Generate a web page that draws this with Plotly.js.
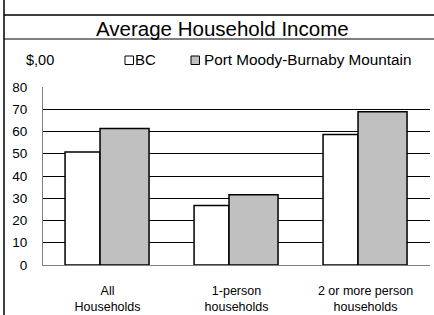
<!DOCTYPE html>
<html>
<head>
<meta charset="utf-8">
<script src="https://cdn.plot.ly/plotly-3.0.1.min.js"></script>
<style>html,body{margin:0;padding:0;background:#fff;}#chart{width:434px;height:315px;}</style>
</head>
<body>
<div id="chart"></div>
<script>
var categories = ["All<br>Households", "1-person<br>households", "2 or more person<br>households"];
var bcValues = [50.8, 26.7, 58.7];
var pmValues = [61.3, 31.6, 68.9];
var seriesNames = ["BC", "Port Moody-Burnaby Mountain"];
var yTicks = [0, 10, 20, 30, 40, 50, 60, 70, 80];
var titleText = "Average Household Income";
var unitText = "$,00";

var W = 434, H = 315;
var L = 43, R = 430, T = 87, B = 265;
function px(x) { return (x - L) / (R - L); }
function py(y) { return (B - y) / (B - T); }

var font = "Liberation Sans, Arial, Helvetica, sans-serif";

var traces = [
  {
    type: "bar", x: categories, y: bcValues, name: seriesNames[0],
    width: 0.271, offset: -0.329,
    marker: { color: "#ffffff", line: { color: "#000000", width: 1.5 } },
    showlegend: false, hoverinfo: "y"
  },
  {
    type: "bar", x: categories, y: pmValues, name: seriesNames[1],
    width: 0.38, offset: -0.058,
    marker: { color: "#c0c0c0", line: { color: "#000000", width: 1.5 } },
    showlegend: false, hoverinfo: "y"
  }
];

var layout = {
  width: W, height: H,
  margin: { l: L, r: W - R, t: T, b: H - B, pad: 0 },
  paper_bgcolor: "#ffffff", plot_bgcolor: "#ffffff",
  font: { family: font, color: "#000000", size: 13 },
  showlegend: false,
  xaxis: {
    type: "category", range: [-0.5, 2.5], showgrid: false, zeroline: false,
    showline: true, linecolor: "#808080", linewidth: 1,
    ticks: "", ticklabelstandoff: 14, tickfont: { size: 12.5, family: font }, fixedrange: true
  },
  yaxis: {
    range: [0, 80], tickvals: yTicks, showgrid: true, gridcolor: "#000000", gridwidth: 1,
    zeroline: false, showline: true, linecolor: "#808080", linewidth: 1,
    ticks: "", ticklabelstandoff: 12, tickfont: { size: 13.5, family: font }, fixedrange: true
  },
  shapes: [
    { type: "line", xref: "paper", yref: "paper", x0: px(4), x1: px(4), y0: py(0), y1: py(315), line: { color: "#000", width: 1.5 } },
    { type: "line", xref: "paper", yref: "paper", x0: px(4), x1: px(434), y0: py(15), y1: py(15), line: { color: "#000", width: 1.5 } },
    { type: "line", xref: "paper", yref: "paper", x0: px(4), x1: px(434), y0: py(39), y1: py(39), line: { color: "#000", width: 1 } },
    { type: "rect", xref: "paper", yref: "paper", x0: px(125), x1: px(133.5), y0: py(56), y1: py(64.5), fillcolor: "#ffffff", line: { color: "#000", width: 1 } },
    { type: "rect", xref: "paper", yref: "paper", x0: px(191), x1: px(199.5), y0: py(56), y1: py(64.5), fillcolor: "#c0c0c0", line: { color: "#000", width: 1 } }
  ],
  annotations: [
    { text: titleText, xref: "paper", yref: "paper", x: px(222), y: py(28.5), xanchor: "center", yanchor: "middle", showarrow: false, font: { size: 20.5, family: font } },
    { text: unitText, xref: "paper", yref: "paper", x: px(24), y: py(60), xanchor: "left", yanchor: "middle", showarrow: false, font: { size: 14.5, family: font } },
    { text: seriesNames[0], xref: "paper", yref: "paper", x: px(133), y: py(60), xanchor: "left", yanchor: "middle", showarrow: false, font: { size: 15, family: font } },
    { text: seriesNames[1], xref: "paper", yref: "paper", x: px(202), y: py(60), xanchor: "left", yanchor: "middle", showarrow: false, font: { size: 15.3, family: font } }
  ]
};

Plotly.newPlot("chart", traces, layout, { staticPlot: true, displayModeBar: false });
</script>
</body>
</html>
